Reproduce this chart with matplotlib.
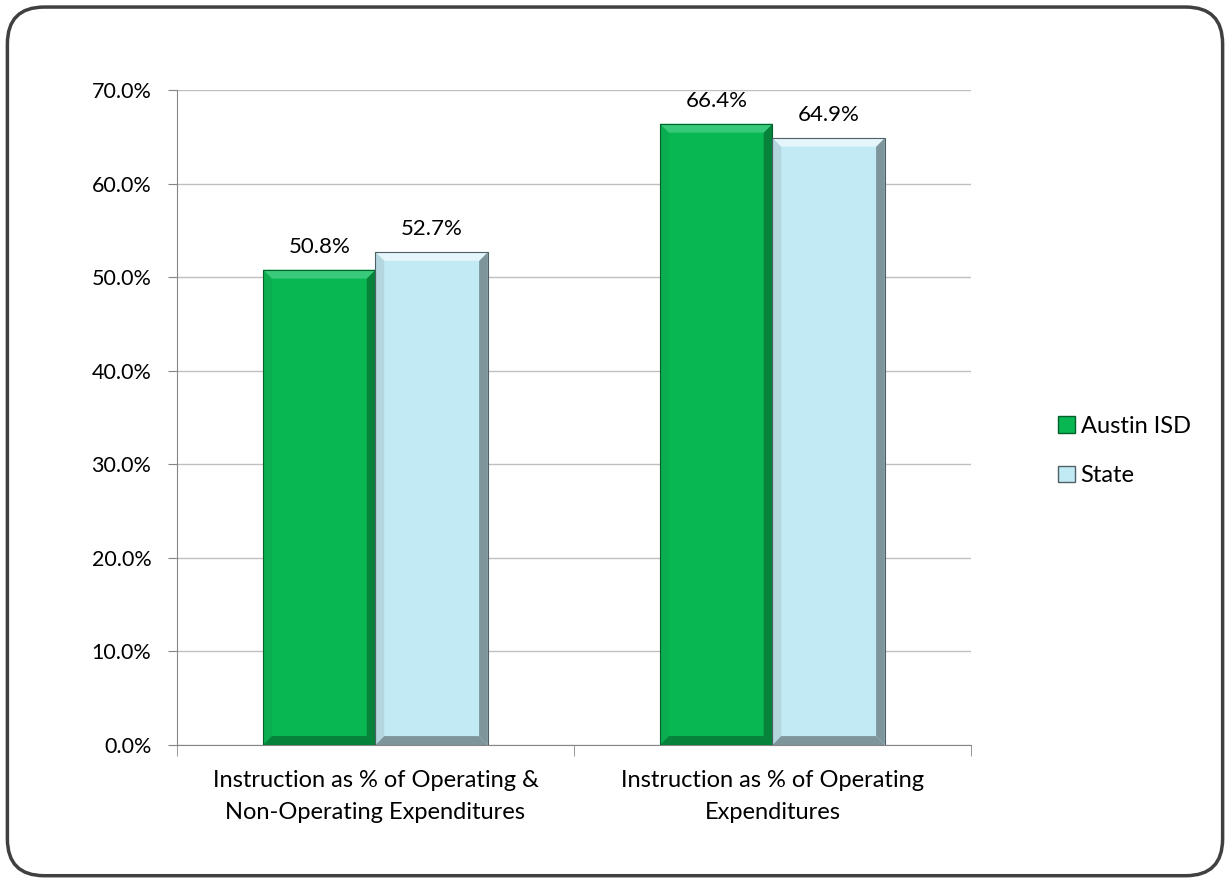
import matplotlib
matplotlib.use("Agg")
import matplotlib.pyplot as plt
from matplotlib.patches import FancyBboxPatch, Polygon, Rectangle
from matplotlib.ticker import FuncFormatter, MultipleLocator
import numpy as np

categories = ["Instruction as % of Operating &\nNon-Operating Expenditures",
              "Instruction as % of Operating\nExpenditures"]
series_names = ["Austin ISD", "State"]
austin = [50.8, 66.4]
state = [52.7, 64.9]

# base, top bevel, bottom/right bevel, left bevel, outline
colors = {"Austin ISD": ("#08B652", "#38CA7A", "#06823B", "#0AAE50", "#04602B"),
          "State": ("#C2EAF4", "#E4F6FB", "#7F959C", "#B4D6DF", "#4F6066")}

plt.rcParams['font.family'] = ['Lato', 'DejaVu Sans']

fig = plt.figure(figsize=(12.3, 8.81), dpi=100)
fig.patches.append(FancyBboxPatch((0.006, 0.006), 0.988, 0.986,
                                  boxstyle="round,pad=0,rounding_size=0.03",
                                  transform=fig.transFigure, fill=False,
                                  edgecolor="#404040", linewidth=2.5,
                                  mutation_aspect=1230/881))
ax = fig.add_axes([0.1439, 0.1544, 0.7894 - 0.1439, 0.8978 - 0.1544])

x = np.arange(len(categories))
w = 0.283

def bevel_bar(xc, h, cols):
    base, light, dark, side, outline = cols
    ax.bar(xc, h, width=w, color=base, edgecolor="none", zorder=3)
    bx = 0.022
    by = 0.95
    l, r = xc - w / 2, xc + w / 2
    ax.add_patch(Polygon([(l, 0), (l, h), (l + bx, h - by), (l + bx, by)],
                         closed=True, facecolor=side, edgecolor="none", zorder=4))
    ax.add_patch(Polygon([(r, 0), (r, h), (r - bx, h - by), (r - bx, by)],
                         closed=True, facecolor=dark, edgecolor="none", zorder=4))
    ax.add_patch(Polygon([(l, h), (r, h), (r - bx, h - by), (l + bx, h - by)],
                         closed=True, facecolor=light, edgecolor="none", zorder=4))
    ax.add_patch(Polygon([(l, 0), (r, 0), (r - bx, by), (l + bx, by)],
                         closed=True, facecolor=dark, edgecolor="none", zorder=4))
    ax.add_patch(Rectangle((l, 0), w, h, fill=False, edgecolor=outline, linewidth=0.8, zorder=5))
    ax.annotate(f"{h:.1f}%", (xc, h), xytext=(0, 9), textcoords="offset points",
                ha="center", va="bottom", fontsize=16, color="#000000")

for i in range(len(categories)):
    bevel_bar(x[i] - w / 2, austin[i], colors["Austin ISD"])
    bevel_bar(x[i] + w / 2, state[i], colors["State"])

ax.set_xlim(-0.5, 1.5)
ax.set_ylim(0, 70)
ax.yaxis.set_major_locator(MultipleLocator(10))
ax.yaxis.set_major_formatter(FuncFormatter(lambda v, p: f"{v:.1f}%"))
ax.grid(axis="y", color="#BFBFBF", linewidth=1, zorder=0)
ax.set_axisbelow(True)
for s in ["top", "right"]:
    ax.spines[s].set_visible(False)
ax.spines["left"].set_color("#868686")
ax.spines["bottom"].set_color("#868686")
ax.tick_params(axis="y", colors="#868686", labelcolor="#000000", labelsize=15.5,
               length=6.5, direction="out", pad=12)
ax.set_xticks(x)
ax.set_xticklabels(categories, fontsize=17, linespacing=1.65)
ax.tick_params(axis="x", length=0, pad=18)
ax.set_xticks([-0.5, 0.5, 1.5], minor=True)
ax.tick_params(axis="x", which="minor", length=8, color="#868686")

handles = [Rectangle((0, 0), 1, 1, facecolor=colors[n][0], edgecolor=colors[n][4]) for n in series_names]
fig.legend(handles, series_names, loc="center left", bbox_to_anchor=(0.843, 0.488),
           frameon=False, fontsize=17, handlelength=0.7, handleheight=0.7,
           handletextpad=0.25, labelspacing=1.2)

fig.savefig("out.png", dpi=100)
